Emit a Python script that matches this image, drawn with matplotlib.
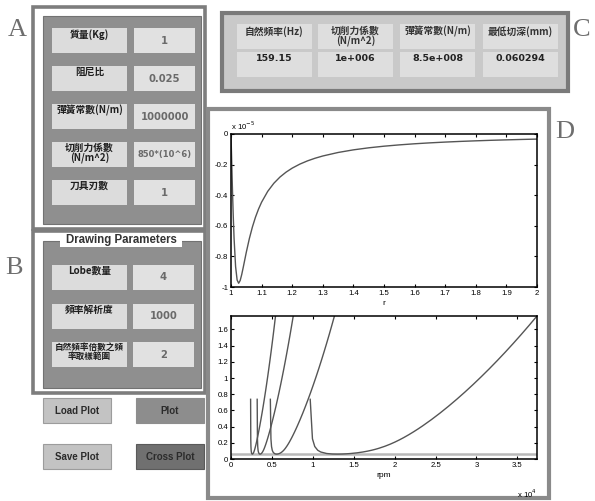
import matplotlib
matplotlib.use('Agg')
import matplotlib.pyplot as plt
from matplotlib.patches import Rectangle
from matplotlib.ticker import FuncFormatter, MultipleLocator

# ---------------- panel texts ----------------
param_labels = ['質量(Kg)', '阻尼比', '彈簧常數(N/m)', '切削力係數\n(N/m^2)', '刀具刃數']
param_values = ['1', '0.025', '1000000', '850*(10^6)', '1']

draw_title = 'Drawing Parameters'
draw_labels = ['Lobe數量', '頻率解析度', '自然頻率倍數之頻\n率取樣範圍']
draw_values = ['4', '1000', '2']

result_labels = ['自然頻率(Hz)', '切削力係數\n(N/m^2)', '彈簧常數(N/m)', '最低切深(mm)']
result_values = ['159.15', '1e+006', '8.5e+008', '0.060294']

button_labels = ['Load Plot', 'Plot', 'Save Plot', 'Cross Plot']
panel_tags = ['A', 'B', 'C', 'D']

# ---------------- FRF real part vs frequency ratio ----------------
freq_ratio = [1.0, 1.001, 1.003, 1.005, 1.0075, 1.01, 1.015, 1.02, 1.025, 1.03, 1.035,
              1.04, 1.05, 1.06, 1.07, 1.08, 1.09, 1.1, 1.12, 1.14, 1.16,
              1.18, 1.2, 1.225, 1.25, 1.275, 1.3, 1.35, 1.4, 1.45, 1.5,
              1.55, 1.6, 1.65, 1.7, 1.75, 1.8, 1.85, 1.9, 1.95, 2.0]
real_g = [0.0, -0.0798, -0.2356, -0.3818, -0.5447, -0.6804, -0.8663, -0.9544, -0.9755, -0.9574, -0.9189,
          -0.8716, -0.7729, -0.6834, -0.6073, -0.5437, -0.4905, -0.4456, -0.3749, -0.3221, -0.2814,
          -0.2492, -0.2231, -0.1968, -0.1756, -0.1582, -0.1437, -0.1208, -0.1036, -0.0903, -0.0797,
          -0.0711, -0.0639, -0.0579, -0.0528, -0.0484, -0.0446, -0.0412, -0.0383, -0.0356, -0.0333]

# ---------------- stability lobes: depth of cut (mm) vs spindle speed ----------------
b_lim = [0.7376, 0.2497, 0.1541, 0.1080, 0.0865, 0.0679, 0.0616, 0.0603, 0.0614, 0.0640,
         0.0675, 0.0761, 0.0861, 0.0969, 0.1082, 0.1199, 0.1320, 0.1569, 0.1826, 0.2090,
         0.2360, 0.2636, 0.2989, 0.3350, 0.3718, 0.4095, 0.4871, 0.5677, 0.6513, 0.7380,
         0.8275, 0.9201, 1.0156, 1.1140, 1.2154, 1.3198, 1.4271, 1.5373, 1.6505, 1.7667]
rpm_lobe0 = [9682, 9956, 10238, 10601, 10967, 11691, 12380, 13016, 13595, 14119,
             14592, 15409, 16094, 16679, 17192, 17648, 18062, 18797, 19445, 20033,
             20580, 21097, 21712, 22302, 22871, 23427, 24505, 25553, 26581, 27594,
             28597, 29592, 30580, 31564, 32543, 33520, 34493, 35465, 36435, 37403]
rpm_lobe1 = [4810, 4881, 4954, 5044, 5132, 5299, 5451, 5587, 5707, 5814,
             5909, 6074, 6214, 6336, 6446, 6547, 6642, 6816, 6979, 7133,
             7281, 7426, 7602, 7775, 7945, 8114, 8447, 8777, 9104, 9429,
             9753, 10076, 10398, 10720, 11041, 11362, 11683, 12003, 12322, 12643]
rpm_lobe2 = [3200, 3233, 3267, 3309, 3350, 3426, 3495, 3557, 3611, 3660,
             3705, 3783, 3850, 3911, 3967, 4019, 4069, 4163, 4253, 4339,
             4423, 4506, 4608, 4708, 4808, 4907, 5103, 5298, 5493, 5686,
             5879, 6072, 6264, 6456, 6648, 6840, 7032, 7224, 7415, 7607]
rpm_lobe3 = [2397, 2417, 2437, 2462, 2486, 2531, 2572, 2609, 2642, 2671,
             2698, 2747, 2789, 2828, 2865, 2900, 2933, 2997, 3058, 3118,
             3176, 3234, 3306, 3376, 3447, 3517, 3656, 3795, 3933, 4070,
             4208, 4345, 4482, 4619, 4756, 4893, 5030, 5167, 5303, 5440]
b_min = 0.060294

CJK = ['Noto Sans CJK TC', 'Liberation Sans', 'DejaVu Sans']
SANS = ['Liberation Sans', 'DejaVu Sans']
VALF = ['DejaVu Sans']

fig = plt.figure(figsize=(5.95, 5.01), dpi=100)
bg = fig.add_axes([0, 0, 1, 1])
bg.set_xlim(0, 595)
bg.set_ylim(501, 0)
bg.axis('off')
bg.set_zorder(0)


def box(x0, y0, x1, y1, fc, ec='none', lw=0.0, z=1):
    bg.add_patch(Rectangle((x0, y0), x1 - x0, y1 - y0, facecolor=fc,
                           edgecolor=ec, linewidth=lw, zorder=z))


def label(x, y, s, size=7, color='#1e1e1e', fam=CJK, weight='bold', va='top', z=5):
    bg.text(x, y, s, ha='center', va=va, fontsize=size, color=color,
            family=fam, fontweight=weight, linespacing=0.95, zorder=z)


# ---------------- panel A: machining parameters ----------------
box(33, 7, 205, 229, 'white', '#7d7d7d', 2.6)
box(43, 16, 201, 224, '#8f8f8f', '#727272', 0.8, z=2)
for i, (lab, val) in enumerate(zip(param_labels, param_values)):
    top = 28 + 38 * i
    box(52, top, 127, top + 24.5, '#dcdcdc', z=3)
    box(134, top, 195, top + 24.5, '#e1e1e1', z=3)
    label(89.5, top + 1, lab, size=7)
    label(164.5, top + 12.5, val, size=7.2 if len(val) < 8 else 6.0,
          color='#6a6a6a', fam=VALF, va='center')

# ---------------- panel B: drawing parameters ----------------
box(33, 231, 205, 393, 'white', '#7d7d7d', 2.6)
box(43, 241, 201, 388, '#8f8f8f', '#727272', 0.8, z=2)
box(60, 233, 182, 247, 'white', z=3)
label(121, 240, draw_title, size=8.3, color='#333333', fam=SANS, va='center')
for i, (lab, val) in enumerate(zip(draw_labels, draw_values)):
    top = 265 + 38.5 * i
    box(52, top, 127, top + 25, '#dcdcdc', z=3)
    box(133, top, 194, top + 25, '#e1e1e1', z=3)
    label(89.5, top + 1, lab, size=7 if '\n' not in lab else 6.2)
    label(163.5, top + 12.5, val, size=7.2, color='#6a6a6a', fam=VALF, va='center')

# ---------------- buttons ----------------
btn_geom = [(43, 398, 111, 423, '#c3c3c3', '#9c9c9c'),
            (136, 398, 204, 423, '#8d8d8d', '#8d8d8d'),
            (43, 444, 111, 469, '#c3c3c3', '#9c9c9c'),
            (136, 444, 204, 469, '#707070', '#5a5a5a')]
for (x0, y0, x1, y1, fc, ec), txt in zip(btn_geom, button_labels):
    box(x0, y0, x1, y1, fc, ec, 0.8, z=3)
    label((x0 + x1) / 2, (y0 + y1) / 2, txt, size=7, color='#2b2b2b', fam=SANS, va='center')

# ---------------- panel C: computed results ----------------
box(222, 13, 568, 91, '#c9c9c9', '#7a7a7a', 3.0)
cols = [(237, 312), (318, 393), (400, 475), (483, 558)]
for (x0, x1), lab, val in zip(cols, result_labels, result_values):
    box(x0, 24, x1, 49, '#dedede', z=3)
    box(x0, 52, x1, 77, '#dedede', z=3)
    label((x0 + x1) / 2, 26, lab, size=7, color='#333333')
    label((x0 + x1) / 2, 58, val, size=6.8, color='#222222', fam=VALF, va='center')

# ---------------- panel D: plot frame ----------------
box(208, 109, 549, 498, 'white', '#8a8a8a', 3.0)

# panel tags
for tag, (tx, ty) in zip(panel_tags, [(17.5, 29.5), (14, 268), (582, 30), (565, 132)]):
    bg.text(tx, ty, tag, ha='center', va='center', fontsize=19, color='#6e6e6e',
            family=['Liberation Serif', 'DejaVu Serif'])

W, H = 595.0, 501.0


def style_axes(ax):
    for sp in ax.spines.values():
        sp.set_linewidth(1.1)
        sp.set_color('black')
    ax.tick_params(direction='in', top=True, right=True, length=2.5, width=0.8,
                   labelsize=5.6, pad=2)
    for t in ax.get_xticklabels() + ax.get_yticklabels():
        t.set_family(SANS)


gfmt = FuncFormatter(lambda v, p: '%g' % round(v, 6))

# ---------------- top plot: real part of FRF ----------------
ax1 = fig.add_axes([231 / W, 1 - 287 / H, 306 / W, 153 / H])
ax1.set_zorder(2)
ax1.plot(freq_ratio, real_g, color='#555555', lw=1.0)
ax1.set_xlim(1, 2)
ax1.set_ylim(-1, 0)
ax1.xaxis.set_major_locator(MultipleLocator(0.1))
ax1.yaxis.set_major_locator(MultipleLocator(0.2))
ax1.xaxis.set_major_formatter(gfmt)
ax1.yaxis.set_major_formatter(gfmt)
style_axes(ax1)
ax1.set_xlabel('r', fontsize=6, family=SANS, labelpad=2)
ax1.text(0.0, 1.01, r'x 10$^{-5}$', transform=ax1.transAxes, ha='left', va='bottom',
         fontsize=5.6, family=SANS)

# ---------------- bottom plot: stability lobes ----------------
ax2 = fig.add_axes([231 / W, 1 - 459 / H, 306 / W, 143 / H])
ax2.set_zorder(2)
ax2.axhline(b_min, color='#b9b9b9', lw=1.8, zorder=1)
for rpm in (rpm_lobe0, rpm_lobe1, rpm_lobe2, rpm_lobe3):
    ax2.plot(rpm, b_lim, color='#555555', lw=1.0, zorder=2)
ax2.set_xlim(0, max(rpm_lobe0))
ax2.set_ylim(0, max(b_lim))
ax2.xaxis.set_major_locator(MultipleLocator(5000))
ax2.yaxis.set_major_locator(MultipleLocator(0.2))
ax2.xaxis.set_major_formatter(FuncFormatter(lambda v, p: '%g' % round(v / 1e4, 6)))
ax2.yaxis.set_major_formatter(gfmt)
style_axes(ax2)
ax2.set_xlabel('rpm', fontsize=6, family=SANS, labelpad=2)
ax2.text(1.0, -0.2, r'x 10$^{4}$', transform=ax2.transAxes, ha='right', va='top',
         fontsize=5.6, family=SANS)

fig.savefig('out.png', dpi=100)
